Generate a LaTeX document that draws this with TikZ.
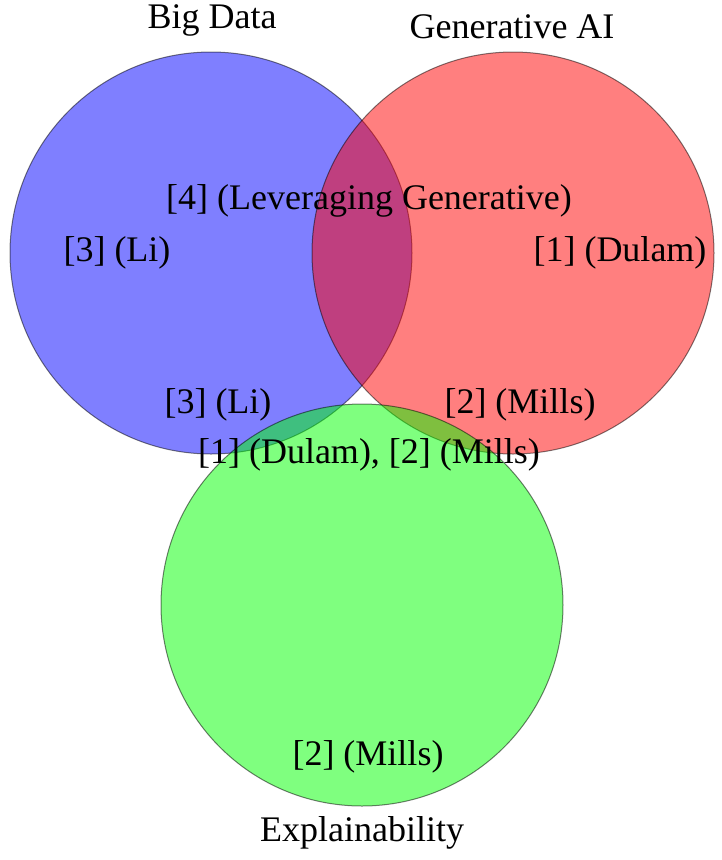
\documentclass[tikz,border=0pt]{standalone}
\usepackage{fontspec}
\setmainfont{Liberation Serif}
\begin{document}
\begin{tikzpicture}[x=1pt,y=-1pt,
  setc/.style={circle,minimum size=402pt,inner sep=0pt,draw=black,line width=1pt,opacity=0.5},
  lbl/.style={font=\fontsize{36}{43}\selectfont,inner sep=0pt,anchor=center}]
\useasboundingbox (0,0) rectangle (721,860);
\node[setc,fill=blue] (bd) at (211,253) {};
\node[setc,fill=red] (ga) at (513,253) {};
\node[setc,fill=green] (ex) at (362,605) {};
\node[lbl] (tbd) at (212,20) {Big Data};
\node[lbl] (tga) at (512,27) {Generative AI};
\node[lbl] (tex) at (362,833) {Explainability};
\node[lbl] (l4) at (369,201) {[4] (Leveraging Generative)};
\node[lbl] (l3a) at (117,253) {[3] (Li)};
\node[lbl] (l1) at (620,253) {[1] (Dulam)};
\node[lbl] (l3b) at (218,405) {[3] (Li)};
\node[lbl] (l2a) at (520,405) {[2] (Mills)};
\node[lbl] (l12) at (369,455) {[1] (Dulam), [2] (Mills)};
\node[lbl] (l2b) at (368,757) {[2] (Mills)};
\end{tikzpicture}
\end{document}
